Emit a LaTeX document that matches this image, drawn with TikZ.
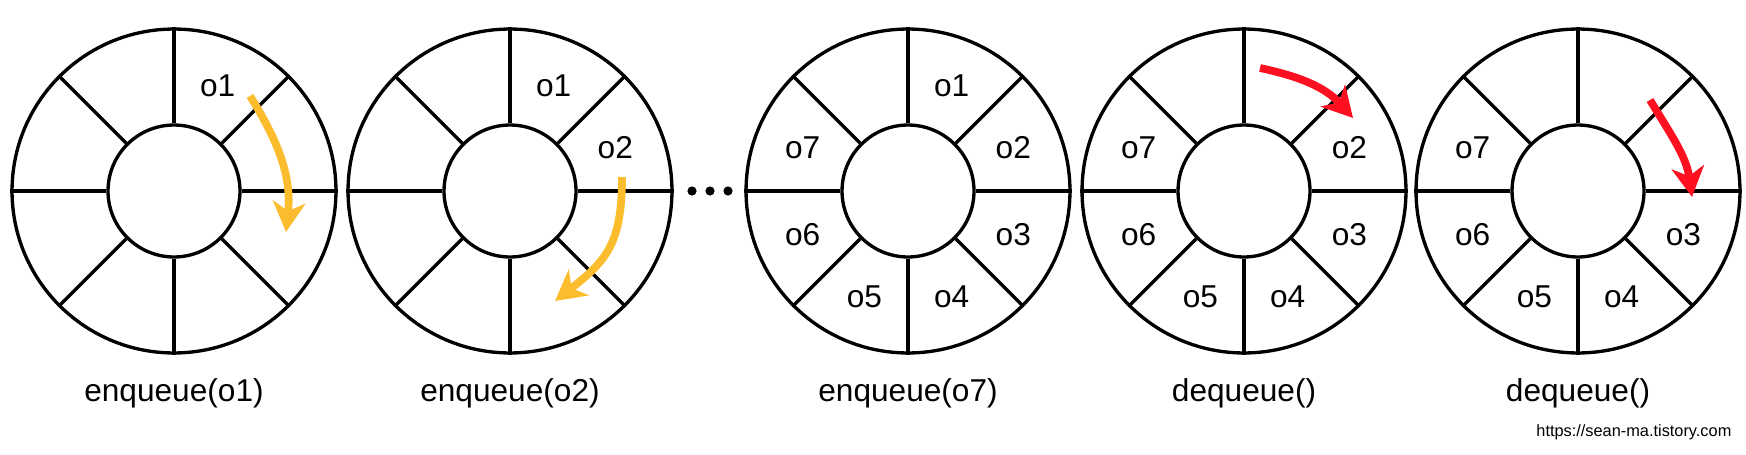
\documentclass[tikz,border=0pt]{standalone}
\usepackage{fontspec}
\setmainfont{Liberation Sans}
\usepackage{tikz}
\usetikzlibrary{arrows.meta,calc,positioning}
\definecolor{Amber}{HTML}{FBBD2E}
\definecolor{Alarm}{HTML}{FF1020}

\begin{document}
\begin{tikzpicture}[x=0.02cm, y=0.02cm, line width=1.9pt, node distance=0.32cm,
    ring/.style={circle, draw, minimum size=6.48cm, inner sep=0pt},
    hole/.style={circle, draw, fill=white, minimum size=2.64cm, inner sep=0pt},
    cell/.style={font=\fontsize{18}{20}\selectfont, inner sep=0pt},
    caption/.style={font=\fontsize{18}{20}\selectfont},
    enq/.style={-{Stealth[length=6mm, width=6.5mm, inset=1.8mm]}, line width=4.4pt, color=Amber},
    deq/.style={-{Stealth[length=6mm, width=6.5mm, inset=1.8mm]}, line width=4.4pt, color=Alarm}]
  \path[use as bounding box, fill=white] (0,0) rectangle (1746,454);
  % the five ring buffers
  \node[ring] (q1) at (174,263) {};
  \node[ring] (q2) at (510,263) {};
  \node[ring] (q3) at (908,263) {};
  \node[ring] (q4) at (1244,263) {};
  \node[ring] (q5) at (1578,263) {};
  \foreach \i in {1,...,5} {
    \node[hole] (h\i) at (q\i) {};
    \foreach \a in {0,45,...,315}
      \draw (h\i.\a) -- (q\i.\a);
  }
  % slots
  \node[cell] (q1o1) at ([shift={(67.5:114)}]q1.center) {o1};
  \node[cell] (q2o1) at ([shift={(67.5:114)}]q2.center) {o1};
  \node[cell] (q2o2) at ([shift={(22.5:114)}]q2.center) {o2};
  \foreach \k/\a in {1/67.5, 2/22.5, 3/-22.5, 4/-67.5, 5/-112.5, 6/-157.5, 7/157.5}
    \node[cell] (q3o\k) at ([shift={(\a:114)}]q3.center) {o\k};
  \foreach \k/\a in {2/22.5, 3/-22.5, 4/-67.5, 5/-112.5, 6/-157.5, 7/157.5}
    \node[cell] (q4o\k) at ([shift={(\a:114)}]q4.center) {o\k};
  \foreach \k/\a in {3/-22.5, 4/-67.5, 5/-112.5, 6/-157.5, 7/157.5}
    \node[cell] (q5o\k) at ([shift={(\a:114)}]q5.center) {o\k};
  % captions
  \node[caption, below=of q1] (cap1) {enqueue(o1)};
  \node[caption, below=of q2] (cap2) {enqueue(o2)};
  \node[caption, below=of q3] (cap3) {enqueue(o7)};
  \node[caption, below=of q4] (cap4) {dequeue()};
  \node[caption, below=of q5] (cap5) {dequeue()};
  % gap
  \foreach \x in {692,710,728}
    \fill (\x,263) circle (4.6);
  % moves
  \coordinate (s1) at ([shift={(76,95)}]q1.center);
  \coordinate (e1) at ([shift={(112,-41)}]q1.center);
  \coordinate (s2) at ([shift={(112,14)}]q2.center);
  \coordinate (e2) at ([shift={(45,-110)}]q2.center);
  \coordinate (s4) at ([shift={(16,123)}]q4.center);
  \coordinate (e4) at ([shift={(109,73)}]q4.center);
  \coordinate (s5) at ([shift={(72,91)}]q5.center);
  \coordinate (e5) at ([shift={(114,-6)}]q5.center);
  \draw[enq] (s1) to[out=-58, in=84] (e1);
  \draw[enq] (s2) to[out=-90, in=38, looseness=1.2] (e2);
  \draw[deq] (s4) to[out=-12, in=132] (e4);
  \draw[deq] (s5) to[out=-59, in=98] (e5);
  \node[anchor=base east, font=\fontsize{9.3}{11}\selectfont, inner sep=0pt] (url) at (1733,18) {https://sean-ma.tistory.com};
\end{tikzpicture}
\end{document}
